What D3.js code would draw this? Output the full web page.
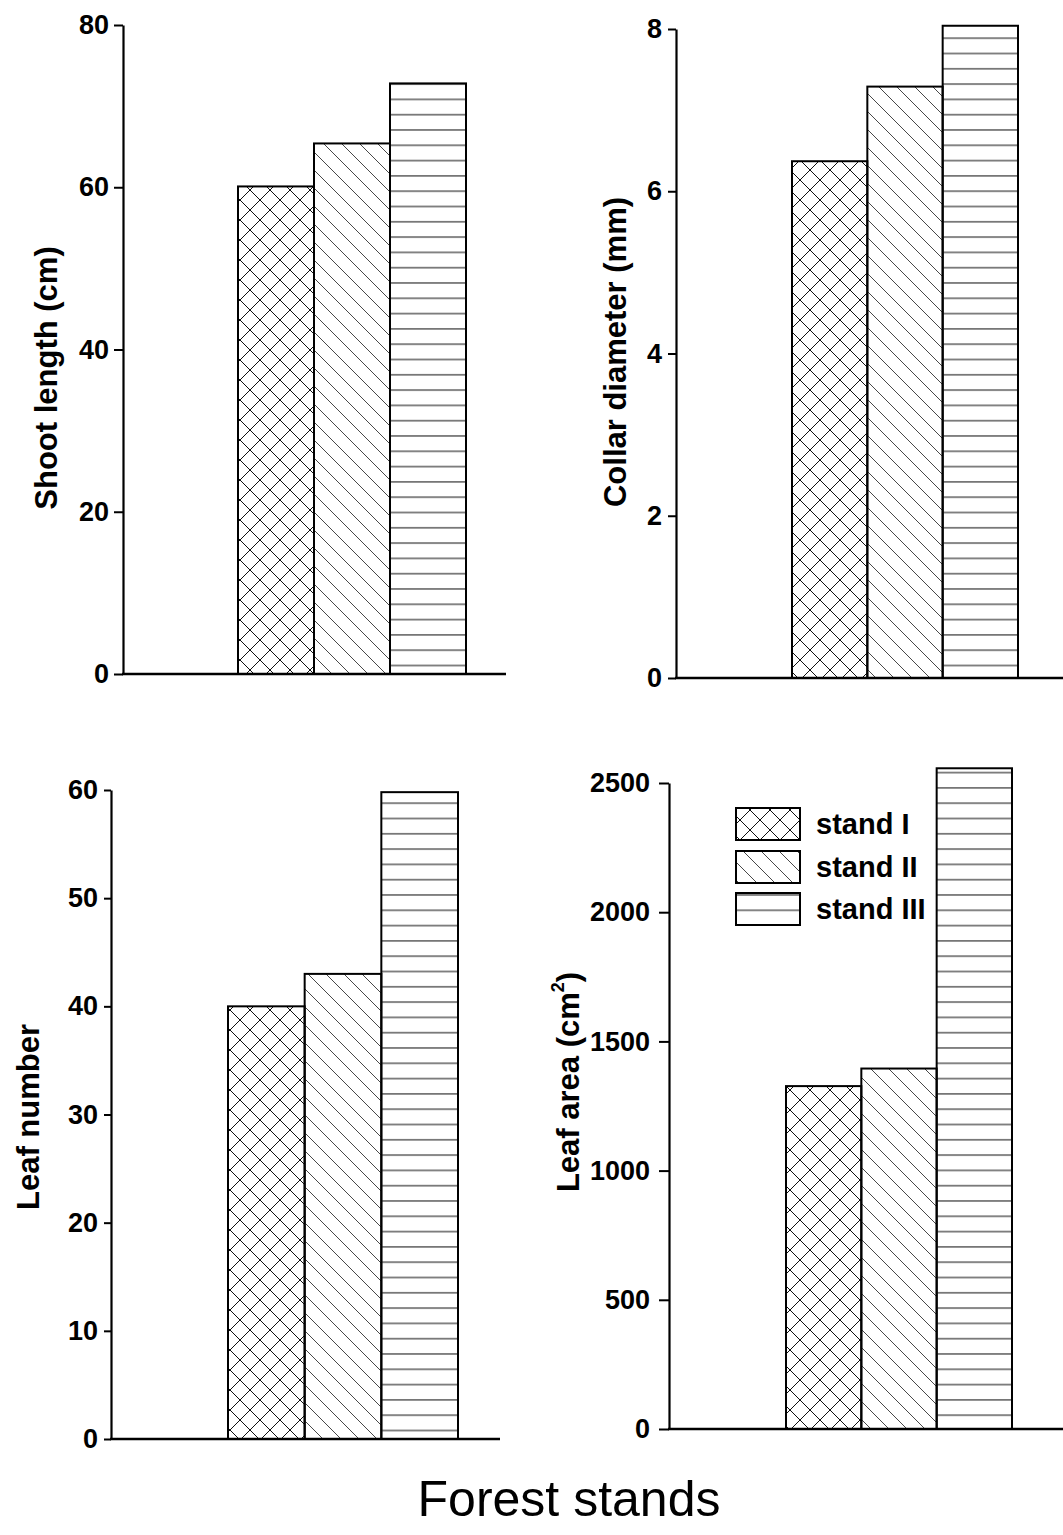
<!DOCTYPE html>
<html>
<head>
<meta charset="utf-8">
<script src="https://cdn.jsdelivr.net/npm/d3@7"></script>
<style>
  html, body { margin: 0; padding: 0; background: #fff; }
  svg { display: block; }
</style>
</head>
<body>
<svg id="chart" width="1063" height="1535"></svg>
<script>
// ---------- data ----------
const stands = ["stand I", "stand II", "stand III"];
const shootLength = [60.1, 65.4, 72.8];      // cm
const collarDiameter = [6.37, 7.29, 8.04];   // mm
const leafNumber = [40.0, 43.0, 59.8];
const leafArea = [1327, 1395, 2557];         // cm^2

const shootTicks = [0, 20, 40, 60, 80];
const collarTicks = [0, 2, 4, 6, 8];
const leafNumTicks = [0, 10, 20, 30, 40, 50, 60];
const leafAreaTicks = [0, 500, 1000, 1500, 2000, 2500];

const xTitle = "Forest stands";

// ---------- setup ----------
const svg = d3.select("#chart");
const FONT = "'Liberation Sans', Arial, Helvetica, sans-serif";
const defs = svg.append("defs");

// hatch patterns
const C = 20;
const pCross = defs.append("pattern").attr("id", "hatch0")
  .attr("patternUnits", "userSpaceOnUse").attr("width", C).attr("height", C);
pCross.append("path").attr("d", `M0,0 L${C},${C} M${C},0 L0,${C} M-1,1 L1,-1 M${C-1},${C+1} L${C+1},${C-1}`)
  .attr("stroke", "#111").attr("stroke-width", 1).attr("fill", "none");

const D = 18;
const pDiag = defs.append("pattern").attr("id", "hatch1")
  .attr("patternUnits", "userSpaceOnUse").attr("width", D).attr("height", D);
pDiag.append("path").attr("d", `M0,0 L${D},${D} M-2,${D-2} L2,${D+2} M${D-2},-2 L${D+2},2`)
  .attr("stroke", "#333").attr("stroke-width", 0.9).attr("fill", "none");

const pHor = defs.append("pattern").attr("id", "hatch2")
  .attr("patternUnits", "userSpaceOnUse").attr("width", 10).attr("height", 15.3);
pHor.append("path").attr("d", "M0,7.6 L10,7.6")
  .attr("stroke", "#222").attr("stroke-width", 1.1).attr("fill", "none");

const fills = ["url(#hatch0)", "url(#hatch1)", "url(#hatch2)"];

const panels = [
  { values: shootLength, ticks: shootTicks, max: 80, axisX: 123, yTop: 25, yBot: 674,
    barL: 238, barR: 466, baseEnd: 506, tickLen: 9, pad: 5, labelX: 46, labelY: 378,
    label: ["Shoot length (cm)"] },
  { values: collarDiameter, ticks: collarTicks, max: 8, axisX: 676, yTop: 29, yBot: 678,
    barL: 792, barR: 1018, baseEnd: 1063, tickLen: 8, pad: 6, labelX: 615, labelY: 352,
    label: ["Collar diameter (mm)"] },
  { values: leafNumber, ticks: leafNumTicks, max: 60, axisX: 111, yTop: 790, yBot: 1439,
    barL: 228, barR: 458, baseEnd: 500, tickLen: 7, pad: 6, labelX: 28, labelY: 1117,
    label: ["Leaf number"] },
  { values: leafArea, ticks: leafAreaTicks, max: 2500, axisX: 669, yTop: 783, yBot: 1429,
    barL: 786, barR: 1012, baseEnd: 1063, tickLen: 10, pad: 9, labelX: 568, labelY: 1082,
    label: ["Leaf area (cm", "2", ")"] }
];

panels.forEach(p => {
  const g = svg.append("g");
  const y = d3.scaleLinear().domain([0, p.max]).range([p.yBot, p.yTop]);
  const x = d3.scaleBand().domain(stands).range([p.barL, p.barR]).padding(0);

  // bars
  g.selectAll("rect.bar").data(p.values).join("rect")
    .attr("class", "bar")
    .attr("x", (d, i) => x(stands[i]))
    .attr("width", x.bandwidth())
    .attr("y", d => y(d))
    .attr("height", d => y(0) - y(d))
    .attr("fill", (d, i) => fills[i])
    .attr("stroke", "#000").attr("stroke-width", 2);

  // y axis
  const ax = g.append("g").attr("transform", `translate(${p.axisX},0)`)
    .call(d3.axisLeft(y).tickValues(p.ticks).tickSize(p.tickLen).tickSizeOuter(0)
      .tickPadding(p.pad).tickFormat(d3.format("d")));
  ax.select(".domain").attr("stroke", "#000").attr("stroke-width", 2.2);
  ax.selectAll(".tick line").attr("stroke", "#000").attr("stroke-width", 2);
  ax.selectAll(".tick text").attr("fill", "#000")
    .style("font-family", FONT).style("font-size", "27px").style("font-weight", "bold");

  // baseline (x axis)
  g.append("line")
    .attr("x1", p.axisX - 1).attr("x2", p.baseEnd)
    .attr("y1", y(0)).attr("y2", y(0))
    .attr("stroke", "#000").attr("stroke-width", 2.6);

  // y label
  const t = g.append("text")
    .attr("transform", `translate(${p.labelX},${p.labelY}) rotate(-90)`)
    .attr("text-anchor", "middle").attr("dominant-baseline", "central")
    .style("font-family", FONT).style("font-size", "31px").style("font-weight", "bold")
    .attr("fill", "#000");
  if (p.label.length === 1) {
    t.text(p.label[0]);
  } else {
    t.append("tspan").text(p.label[0]);
    t.append("tspan").text(p.label[1]).attr("baseline-shift", "super").style("font-size", "18px");
    t.append("tspan").text(p.label[2]);
  }
});

// legend (in leaf area panel)
const legend = svg.append("g");
const legRows = [808, 851, 893];
stands.forEach((s, i) => {
  legend.append("rect")
    .attr("x", 736).attr("y", legRows[i]).attr("width", 64).attr("height", 32)
    .attr("fill", fills[i]).attr("stroke", "#000").attr("stroke-width", 2);
  legend.append("text")
    .attr("x", 816).attr("y", legRows[i] + 16)
    .attr("dominant-baseline", "central")
    .style("font-family", FONT).style("font-size", "29px").style("font-weight", "bold")
    .attr("fill", "#000").text(s);
});

// x title
svg.append("text")
  .attr("x", 569).attr("y", 1516)
  .attr("text-anchor", "middle")
  .style("font-family", FONT).style("font-size", "50px")
  .attr("fill", "#000").text(xTitle);
</script>
</body>
</html>
